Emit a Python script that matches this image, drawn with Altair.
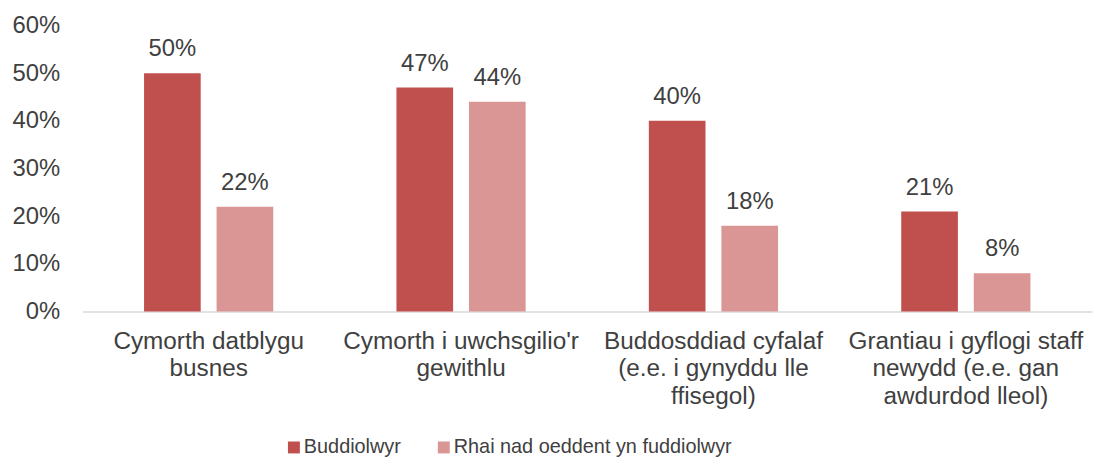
import altair as alt
import pandas as pd

categories = [
    "Cymorth datblygu|busnes",
    "Cymorth i uwchsgilio'r|gewithlu",
    "Buddosddiad cyfalaf|(e.e. i gynyddu lle|ffisegol)",
    "Grantiau i gyflogi staff|newydd (e.e. gan|awdurdod lleol)",
]
series_names = ["Buddiolwyr", "Rhai nad oeddent yn fuddiolwyr"]
buddiolwyr = [50, 47, 40, 21]
rhai_nad = [22, 44, 18, 8]
colors = ["#c0504d", "#d99694"]

rows = []
for c, a, b in zip(categories, buddiolwyr, rhai_nad):
    rows.append({"cat": c, "series": series_names[0], "value": a / 100})
    rows.append({"cat": c, "series": series_names[1], "value": b / 100})
df = pd.DataFrame(rows)

FONT = "Liberation Sans"
TXT = "#404040"

x = alt.X("cat:N", sort=categories, title=None,
          scale=alt.Scale(paddingInner=0, paddingOuter=0),
          axis=alt.Axis(labelAngle=0, labelExpr="split(datum.label, '|')",
                        labelFontSize=24.5, labelColor=TXT, labelFont=FONT,
                        labelLineHeight=28, labelPadding=18, ticks=False,
                        domainColor="#d9d9d9", domainWidth=1.5, labelLimit=400))
xoff = alt.XOffset("series:N", sort=series_names,
                   scale=alt.Scale(paddingInner=0.219, paddingOuter=0.849))
y = alt.Y("value:Q", title=None,
          scale=alt.Scale(domain=[0, 0.6]),
          axis=alt.Axis(format=".0%", values=[0, 0.1, 0.2, 0.3, 0.4, 0.5, 0.6],
                        labelFontSize=24, labelColor=TXT, labelFont=FONT,
                        labelPadding=23, ticks=False, domain=False, grid=False))
color = alt.Color("series:N", sort=series_names,
                  scale=alt.Scale(domain=series_names, range=colors),
                  legend=alt.Legend(title=None, orient="none", direction="horizontal",
                                    legendX=203, legendY=415, symbolType="square",
                                    symbolSize=144, symbolStrokeWidth=0,
                                    labelFontSize=20, labelFont=FONT, labelColor=TXT,
                                    columnPadding=33, labelOffset=0, labelLimit=500))

base = alt.Chart(df).encode(x=x, xOffset=xoff, y=y)
bars = base.mark_bar().encode(color=color)
labels = base.mark_text(baseline="alphabetic", dy=-17, fontSize=24, font=FONT,
                        color=TXT).encode(text=alt.Text("value:Q", format=".0%"))

chart = (bars + labels).properties(
    width=1017, height=288,
    background="white",
    autosize=alt.AutoSizeParams(type="none"),
    padding={"left": 75, "top": 16, "right": 5, "bottom": 156},
).configure_view(strokeWidth=0)

chart.save("out.html", embed_options={"renderer": "svg", "actions": False})
